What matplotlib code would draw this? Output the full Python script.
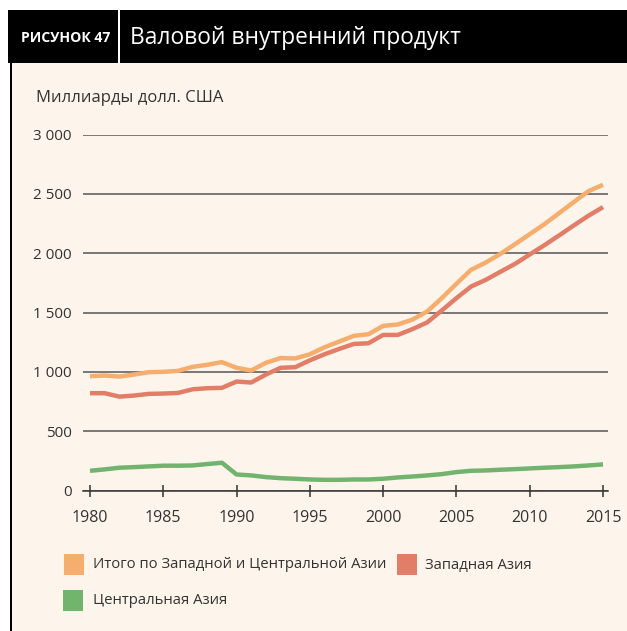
import matplotlib
matplotlib.use('agg')
import matplotlib.pyplot as plt
from matplotlib.patches import Rectangle
from matplotlib.ticker import FuncFormatter

plt.rcParams['font.family'] = ['Open Sans', 'DejaVu Sans']

# data (billions USD)
years = list(range(1980, 2016))
total = [963, 969, 960, 977, 997, 1000, 1008, 1042, 1059, 1082,
         1034, 1011, 1076, 1116, 1113, 1148, 1207, 1255, 1303, 1317,
         1387, 1399, 1440, 1508, 1621, 1742, 1860, 1921, 1994, 2076,
         2160, 2244, 2337, 2430, 2522, 2576]
west = [820, 820, 791, 800, 814, 817, 822, 853, 862, 865,
        918, 910, 977, 1034, 1039, 1097, 1148, 1193, 1235, 1241,
        1311, 1311, 1360, 1416, 1517, 1621, 1719, 1775, 1843, 1910,
        1989, 2067, 2149, 2233, 2315, 2388]
central = [166, 178, 192, 197, 203, 209, 209, 211, 223, 234,
           135, 127, 113, 104, 99, 93, 90, 90, 93, 93,
           99, 110, 118, 127, 138, 155, 166, 169, 175, 180,
           186, 192, 197, 203, 211, 220]

labels = ['Итого по Западной и Центральной Азии', 'Западная Азия', 'Центральная Азия']
colors = ['#f5ae6e', '#e27e68', '#72b46e']

W, H = 627, 631
fig = plt.figure(figsize=(W / 100, H / 100), dpi=100)
fig.patch.set_facecolor('white')


def box(x, y, w, h, color, z=-1):
    # pixel coords, y from top
    fig.add_artist(Rectangle((x / W, 1 - (y + h) / H), w / W, h / H,
                             transform=fig.transFigure, facecolor=color,
                             edgecolor='none', zorder=z))


# panel and header
box(10, 63, W - 10, H - 63, '#fdf5ec', -2)
box(10, 63, 1.5, H - 63, 'black')
box(8, 10, W - 8, 53, 'black')
box(118.5, 10, 1.5, 53, 'white')
fig.text(21 / W, 1 - 38 / H, 'РИСУНОК 47', color='white', fontsize=10.1,
         fontweight='bold', ha='left', va='center')
fig.text(130 / W, 1 - 38 / H, 'Валовой внутренний продукт', color='white',
         fontsize=16.4, ha='left', va='center')
fig.text(36 / W, 1 - 98 / H, 'Миллиарды долл. США', color='#333333',
         fontsize=12, ha='left', va='center')

# axes: left 83px, right 608px, top 134.5px, bottom 490.5px
ax = fig.add_axes([83 / W, 1 - 490.5 / H, (608 - 83) / W, (490.5 - 134.5) / H])
ax.set_zorder(2)
ax.patch.set_alpha(0)
ax.set_xlim(1980 - 7 / 14.66, 2015 + 5 / 14.66)
ax.set_ylim(0, 3000)

ax.plot(years, central, color=colors[2], lw=3.2, solid_capstyle='butt', zorder=3)
ax.plot(years, west, color=colors[1], lw=3.2, solid_capstyle='butt', zorder=3)
ax.plot(years, total, color=colors[0], lw=3.2, solid_capstyle='butt', zorder=3)

ax.set_yticks(range(0, 3001, 500))
ax.yaxis.set_major_formatter(FuncFormatter(lambda v, p: f'{int(v):,}'.replace(',', ' ')))
ax.grid(axis='y', color='#555555', lw=1.1, zorder=1)
ax.set_xticks(range(1980, 2016, 5))
ax.tick_params(axis='y', length=0, pad=8, labelsize=11, labelcolor='#333333')
ax.tick_params(axis='x', direction='inout', length=8, width=1.1, color='#333333',
               pad=10, labelsize=11.5, labelcolor='#333333')
for s in ['top', 'right', 'left']:
    ax.spines[s].set_visible(False)
ax.spines['bottom'].set_color('#333333')
ax.spines['bottom'].set_linewidth(1.1)

# legend
leg = [(64, 554, 93, labels[0], colors[0]),
       (397, 554, 425, labels[1], colors[1]),
       (63, 590, 93, labels[2], colors[2])]
for sx, sy, tx, txt, c in leg:
    box(sx, sy, 20, 21, c)
    fig.text(tx / W, 1 - (sy + 11) / H, txt, color='#333333', fontsize=10.7,
             ha='left', va='center')

fig.savefig('out.png', dpi=100)
